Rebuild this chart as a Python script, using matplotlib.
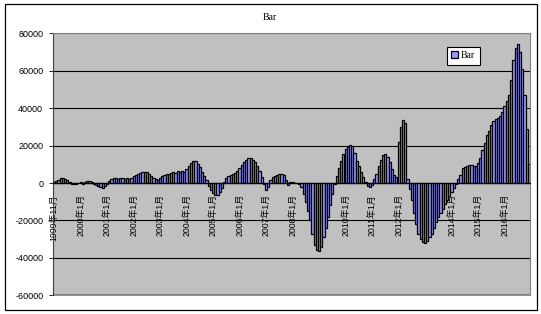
import matplotlib
matplotlib.use("Agg")
import matplotlib.pyplot as plt
from matplotlib.patches import Rectangle
import numpy as np

# monthly values, one bar per month
values = [
    300, 1000, 1500, 2600, 2500, 2200, 1500, 800, -300, -600,
    -400, 200, 500, -300, 400, 1000, 1200, 700, -300, -1000,
    -1800, -2200, -2500, -1800, -600, 1000, 2000, 2800, 2600, 2300,
    2800, 2600, 2200, 2500, 2000, 2500, 3500, 4500, 5000, 5500,
    5800, 5900, 5700, 5000, 3500, 2800, 2000, 1500, 2800, 3800,
    4500, 5000, 5000, 5500, 5800, 5500, 6200, 6000, 6300, 6000,
    7500, 9000, 10500, 11800, 11500, 10000, 8500, 6000, 3500, 1500,
    -1500, -3500, -5500, -6500, -6300, -5000, -2500, 500, 2500, 3800,
    4500, 5000, 5500, 6500, 8000, 9500, 11000, 12500, 13200, 13500,
    12500, 11000, 9000, 6500, 3000, -500, -3500, -2000, 1500, 3000,
    3500, 4200, 4800, 5000, 4200, 1500, -800, 500, 300, 0,
    200, -500, -2000, -6000, -10000, -15000, -20000, -27000, -33000, -36000,
    -36500, -34000, -29000, -24000, -18000, -12000, -6000, -500, 4000, 8000,
    12000, 15500, 18000, 19500, 20500, 20000, 16000, 12000, 9000, 6000,
    3000, 500, -1500, -2000, -1000, 2000, 5000, 9000, 12500, 15000,
    15500, 14000, 11000, 7500, 4500, 3000, 22000, 30000, 33500, 32000,
    2000, -3000, -9000, -16000, -22000, -27000, -30000, -31500, -32000, -31000,
    -29000, -27000, -24000, -21000, -18000, -16000, -14000, -11000, -9000, -7000,
    -5000, -2500, -500, 2000, 4500, 8000, 8500, 9000, 9500, 9500,
    9300, 9300, 10500, 13500, 17500, 21500, 25500, 28000, 31000, 33000,
    34000, 35000, 36000, 38000, 41000, 44000, 47000, 55000, 66000, 72000,
    74500, 70000, 61000, 47000, 29000, 10000,
]

tick_index = [0, 12, 24, 36, 48, 60, 72, 84, 96, 108, 132, 144, 156, 180, 192, 204]
tick_labels = ["1999年11月", "2000年1月", "2001年1月", "2002年1月", "2003年1月",
               "2004年1月", "2005年1月", "2006年1月", "2007年1月", "2008年1月",
               "2010年1月", "2011年1月", "2012年1月", "2014年1月", "2015年1月",
               "2016年1月"]
y_ticks = [-60000, -40000, -20000, 0, 20000, 40000, 60000, 80000]

W, H = 541, 314
fig = plt.figure(figsize=(W / 100, H / 100), dpi=100)
fig.patch.set_facecolor("white")

# outer chart frame
fig.patches.append(Rectangle((5 / W, 4 / H), 532 / W, 306 / H,
                             transform=fig.transFigure, fill=False,
                             edgecolor="black", linewidth=0.9))

ax = fig.add_axes([53 / W, (H - 295.3) / H, 477 / W, 262 / H])
ax.set_facecolor("#C0C0C0")

x = np.arange(len(values))
ax.bar(x, values, width=1.0, color="#9999FF", edgecolor="black",
       linewidth=0.9, label="Bar", zorder=3)

ax.set_xlim(-0.5, len(values) - 0.5)
ax.set_ylim(-60000, 80000)
ax.set_yticks(y_ticks)
ax.set_yticklabels([str(v) for v in y_ticks], fontsize=6.5,
                   family=["Liberation Sans", "DejaVu Sans"])
ax.grid(axis="y", color="black", linewidth=0.8, zorder=1)

# category axis sits at zero
ax.spines["bottom"].set_position(("data", 0))
ax.spines["bottom"].set_color("black")
ax.spines["bottom"].set_zorder(4)
for side in ["top", "right"]:
    ax.spines[side].set_color("#808080")
ax.spines["left"].set_color("#404040")
ax.add_patch(Rectangle((0, 0), 1, 0, transform=ax.transAxes, fill=False,
                       edgecolor="#808080", linewidth=1.2, clip_on=False))

ax.set_xticks(tick_index)
ax.set_xticklabels(tick_labels, rotation=90, fontsize=6.3,
                   family=["Liberation Sans", "Noto Sans CJK SC"])
ax.tick_params(axis="x", length=0, pad=8)
ax.tick_params(axis="y", length=3, width=0.6, pad=4)
for lbl in ax.get_xticklabels():
    lbl.set_zorder(5)

fig.text(270 / W, 1 - 17 / H, "Bar", ha="center", va="center", fontsize=7,
         family="Liberation Serif")

leg = ax.legend(loc="upper left", bbox_to_anchor=(0.826, 0.948),
                borderaxespad=0, frameon=True, fancybox=False,
                handlelength=0.7, handleheight=0.7, handletextpad=0.3,
                borderpad=0.45, prop={"family": "Liberation Serif", "size": 7})
leg.get_frame().set_edgecolor("black")
leg.get_frame().set_linewidth(0.8)
leg.get_frame().set_facecolor("white")
leg.get_frame().set_alpha(1)

fig.savefig("out.png", dpi=100)
